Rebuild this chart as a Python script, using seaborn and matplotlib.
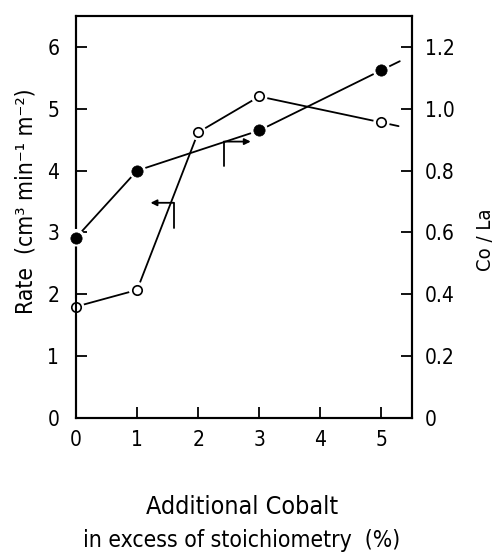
import matplotlib
matplotlib.use("Agg")
import matplotlib.pyplot as plt
import seaborn as sns
import pandas as pd

# Measured series
cobalt_x = [0, 1, 2, 3, 5]
rate = [1.80, 2.07, 4.62, 5.20, 4.78]          # open circles, left axis
co_la_x = [0, 1, 3, 5]
co_la = [0.583, 0.80, 0.93, 1.125]             # filled circles, right axis

# Short trailing extensions past the last point
rate_ext_x = [5, 5.28]
rate_ext_y = [4.78, 4.72]
co_la_ext_x = [5, 5.30]
co_la_ext_y = [1.125, 1.154]

left_ticks = [0, 1, 2, 3, 4, 5, 6]
right_ticks = [0, 0.2, 0.4, 0.6, 0.8, 1.0, 1.2]
right_labels = ["0", "0.2", "0.4", "0.6", "0.8", "1.0", "1.2"]
x_ticks = [0, 1, 2, 3, 4, 5]

sns.set_style("ticks")
plt.rcParams["font.family"] = ["DejaVu Sans"]
plt.rcParams["font.stretch"] = "condensed"
for key in ("text.color", "axes.labelcolor", "xtick.color", "ytick.color",
            "axes.edgecolor"):
    plt.rcParams[key] = "black"

fig = plt.figure(figsize=(5.0, 5.55), dpi=100)
ax = fig.add_axes([0.152, 0.247, 0.672, 0.724])
ax2 = ax.twinx()

df_rate = pd.DataFrame({"x": cobalt_x, "y": rate})
df_co = pd.DataFrame({"x": co_la_x, "y": co_la})
df_rate_ext = pd.DataFrame({"x": rate_ext_x, "y": rate_ext_y})
df_co_ext = pd.DataFrame({"x": co_la_ext_x, "y": co_la_ext_y})

lw = 1.3
# connecting lines
sns.lineplot(data=df_rate, x="x", y="y", ax=ax, color="black", lw=lw, zorder=2)
sns.lineplot(data=df_rate_ext, x="x", y="y", ax=ax, color="black", lw=lw, zorder=2)
sns.lineplot(data=df_co, x="x", y="y", ax=ax2, color="black", lw=lw, zorder=2)
sns.lineplot(data=df_co_ext, x="x", y="y", ax=ax2, color="black", lw=lw, zorder=2)

# white halos leave a small gap between line and marker
sns.scatterplot(data=df_rate, x="x", y="y", ax=ax, s=140, color="white",
                edgecolor="none", zorder=3, clip_on=False)
sns.scatterplot(data=df_co, x="x", y="y", ax=ax2, s=160, color="white",
                edgecolor="none", zorder=3, clip_on=False)
# markers
sns.scatterplot(data=df_rate, x="x", y="y", ax=ax, s=46, color="white",
                edgecolor="black", linewidth=1.2, zorder=4, clip_on=False)
sns.scatterplot(data=df_co, x="x", y="y", ax=ax2, s=66, color="black",
                edgecolor="black", linewidth=0.5, zorder=4, clip_on=False)

ax.set_xlim(0, 5.5)
ax.set_ylim(0, 6.5)
ax2.set_ylim(0, 1.3)
ax.set_xticks(x_ticks)
ax.set_yticks(left_ticks)
ax2.set_yticks(right_ticks)
ax2.set_yticklabels(right_labels)

for a in (ax, ax2):
    for sp in a.spines.values():
        sp.set_linewidth(1.5)
        sp.set_visible(True)
        sp.set_color("black")
ax.tick_params(axis="both", direction="in", length=8, width=1.3,
               labelsize=15, top=False, colors="black")
ax.tick_params(axis="y", pad=12)
ax.tick_params(axis="x", pad=9)
ax2.tick_params(axis="y", direction="in", length=8, width=1.3,
                labelsize=15, pad=9, colors="black")

ax.set_xlabel("")
ax.set_ylabel("Rate  (cm³ min⁻¹ m⁻²)", fontsize=16.5)
ax.yaxis.set_label_coords(-0.116, 0.54)
ax2.set_ylabel("Co / La", fontsize=14.5)
ax2.yaxis.set_label_coords(1.19, 0.443)

# direction arrows: which axis each curve belongs to
ax.plot([1.6, 1.6], [3.48, 3.08], color="black", lw=1.3, zorder=2)
ax.annotate("", xy=(1.22, 3.48), xytext=(1.6, 3.48),
            arrowprops=dict(arrowstyle="-|>", color="black", lw=1.3,
                            mutation_scale=9, shrinkA=0, shrinkB=0))
ax.plot([2.42, 2.42], [4.47, 4.07], color="black", lw=1.3, zorder=2)
ax.annotate("", xy=(2.86, 4.47), xytext=(2.42, 4.47),
            arrowprops=dict(arrowstyle="-|>", color="black", lw=1.3,
                            mutation_scale=9, shrinkA=0, shrinkB=0))

fig.text(0.484, 0.087, "Additional Cobalt", ha="center", va="center", fontsize=18)
fig.text(0.484, 0.027, "in excess of stoichiometry  (%)", ha="center",
         va="center", fontsize=16.5)

fig.savefig("out.png", dpi=100)
